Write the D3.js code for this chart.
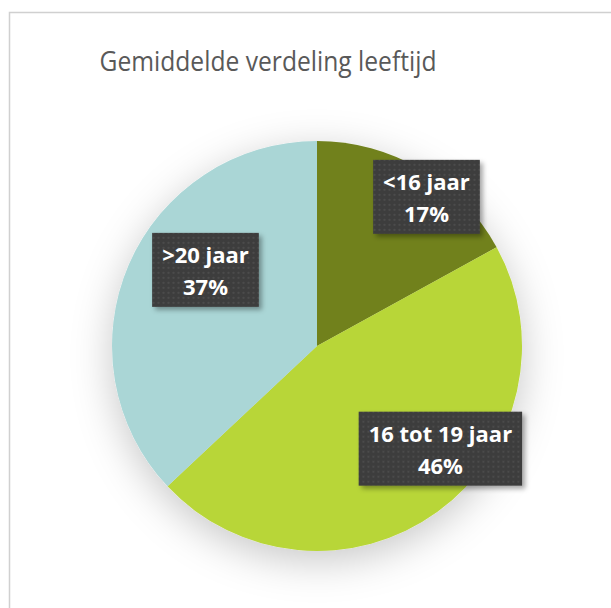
<!DOCTYPE html>
<html>
<head>
<meta charset="utf-8">
<script src="https://cdn.jsdelivr.net/npm/d3@7"></script>
<style>
  body { margin: 0; background: #fff; }
  svg { display: block; }
</style>
</head>
<body>
<div id="chart"></div>
<script>
const categories = ['<16 jaar', '16 tot 19 jaar', '>20 jaar']
const values = [17, 46, 37]
const colors = ['#71811e', '#b8d637', '#aad6d6']
// label box nudges (layout only), relative to the slice centroid
const labelNudge = [[26, -8], [27, -30], [39, -11]]

const w = 611
const h = 608
const cx = 317
const cy = 346
const r = 205

const svg = d3.select('#chart')
    .append('svg')
    .attr('width', w)
    .attr('height', h)

const defs = svg.append('defs')

const shadow = defs.append('filter')
    .attr('id', 'pieShadow')
    .attr('x', '-40%').attr('y', '-40%')
    .attr('width', '180%').attr('height', '180%')
shadow.append('feDropShadow')
    .attr('dx', 0).attr('dy', 10)
    .attr('stdDeviation', 20)
    .attr('flood-color', '#000')
    .attr('flood-opacity', 0.22)

const boxShadow = defs.append('filter')
    .attr('id', 'boxShadow')
    .attr('x', '-20%').attr('y', '-20%')
    .attr('width', '150%').attr('height', '150%')
boxShadow.append('feDropShadow')
    .attr('dx', 3).attr('dy', 3)
    .attr('stdDeviation', 2.5)
    .attr('flood-color', '#000')
    .attr('flood-opacity', 0.35)

const dots = defs.append('pattern')
    .attr('id', 'dots')
    .attr('width', 5).attr('height', 5)
    .attr('patternUnits', 'userSpaceOnUse')
dots.append('rect').attr('width', 5).attr('height', 5).attr('fill', '#3d3d3d')
dots.append('rect').attr('x', 2).attr('y', 2).attr('width', 2).attr('height', 2).attr('fill', '#4b4b4b')

// outer border of the chart area
svg.append('path')
    .attr('d', `M9.5,${h} V12.5 H${w}`)
    .attr('fill', 'none')
    .attr('stroke', '#d0d0d0')
    .attr('stroke-width', 1.5)

svg.append('text')
    .attr('x', 268)
    .attr('y', 71)
    .attr('text-anchor', 'middle')
    .attr('font-family', '"Open Sans", Lato, sans-serif')
    .attr('font-size', 28)
    .attr('fill', '#595959')
    .attr('textLength', 337)
    .attr('lengthAdjust', 'spacingAndGlyphs')
    .text('Gemiddelde verdeling leeftijd')

const pie = d3.pie().sort(null).value(d => d)
const arcs = pie(values)
const arc = d3.arc().innerRadius(0).outerRadius(r)
const labelArc = d3.arc().innerRadius(r * 0.8).outerRadius(r * 0.8)

const g = svg.append('g').attr('transform', `translate(${cx},${cy})`)

g.append('g')
    .attr('filter', 'url(#pieShadow)')
    .selectAll('path')
    .data(arcs)
    .enter()
    .append('path')
    .attr('d', arc)
    .attr('fill', (d, i) => colors[i])

const labels = g.selectAll('g.label')
    .data(arcs)
    .enter()
    .append('g')
    .attr('class', 'label')
    .attr('transform', (d, i) => {
        const c = labelArc.centroid(d)
        return `translate(${c[0] + labelNudge[i][0]},${c[1] + labelNudge[i][1]})`
    })

labels.each(function (d, i) {
    const lg = d3.select(this)
    const t1 = lg.append('text')
        .attr('text-anchor', 'middle')
        .attr('y', -7)
        .attr('font-family', '"Open Sans", Lato, sans-serif')
        .attr('font-weight', 'bold')
        .attr('font-size', 22)
        .attr('fill', '#fff')
        .text(categories[i])
    const t2 = lg.append('text')
        .attr('text-anchor', 'middle')
        .attr('y', 25)
        .attr('font-family', '"Open Sans", Lato, sans-serif')
        .attr('font-weight', 'bold')
        .attr('font-size', 22)
        .attr('fill', '#fff')
        .text(d3.format('.0%')(d.value / d3.sum(values)))
    const bw = Math.max(t1.node().getComputedTextLength(), t2.node().getComputedTextLength()) + 20
    const bh = 74
    lg.insert('rect', 'text')
        .attr('x', -bw / 2)
        .attr('y', -bh / 2)
        .attr('width', bw)
        .attr('height', bh)
        .attr('fill', 'url(#dots)')
        .attr('filter', 'url(#boxShadow)')
})
</script>
</body>
</html>
